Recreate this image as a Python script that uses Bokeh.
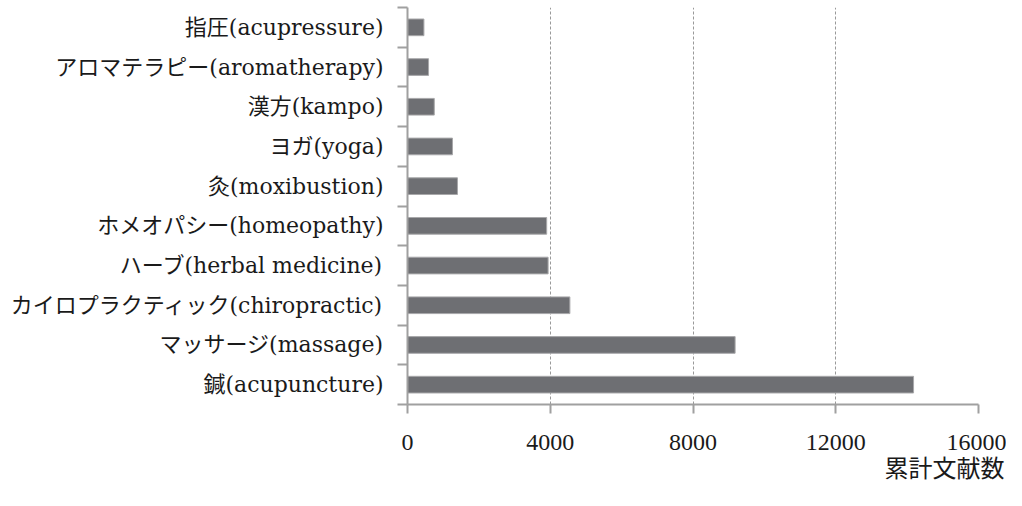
from bokeh.plotting import figure
from bokeh.models import FixedTicker, Range1d, Title
from bokeh.embed import file_html
from bokeh.resources import INLINE

categories = ["鍼(acupuncture)", "マッサージ(massage)", "カイロプラクティック(chiropractic)",
              "ハーブ(herbal medicine)", "ホメオパシー(homeopathy)", "灸(moxibustion)",
              "ヨガ(yoga)", "漢方(kampo)", "アロマテラピー(aromatherapy)", "指圧(acupressure)"]
values = [14180, 9180, 4550, 3940, 3900, 1400, 1260, 750, 590, 460]
x_ticks = [0, 4000, 8000, 12000, 16000]
x_label = "累計文献数"

FONT = "DejaVu Serif, Noto Sans CJK JP"
NUM_FONT = "Liberation Serif, Noto Sans CJK JP"
TXT = "#1a1a1a"
AX = "#a0a0a0"

p = figure(width=1006, height=490, output_backend="svg", toolbar_location=None,
           x_range=Range1d(0, 16000), y_range=Range1d(0, len(categories)),
           min_border_left=407, min_border_right=28, min_border_top=7, min_border_bottom=86)
p.outline_line_color = None
p.background_fill_color = "white"

centers = [i + 0.5 for i in range(len(categories))]
p.hbar(y=centers, right=values, left=0, height=0.42, fill_color="#6e6f73",
       line_color="#a8a8aa", line_width=1)

# x axis
p.xaxis.ticker = FixedTicker(ticks=x_ticks)
p.xaxis.axis_line_color = AX
p.xaxis.axis_line_width = 2
p.xaxis.major_tick_line_color = AX
p.xaxis.major_tick_line_width = 2
p.xaxis.major_tick_out = 9
p.xaxis.major_tick_in = 0
p.xaxis.minor_tick_line_color = None
p.xaxis.minor_tick_out = 0
p.xaxis.major_label_standoff = 21
p.xaxis.major_label_text_font = NUM_FONT
p.xaxis.major_label_text_font_size = "24px"
p.xaxis.major_label_text_color = TXT

# y axis
p.yaxis.ticker = FixedTicker(ticks=centers, minor_ticks=list(range(len(categories) + 1)))
p.yaxis.major_label_overrides = {c: lab for c, lab in zip(centers, categories)}
p.yaxis.axis_line_color = AX
p.yaxis.axis_line_width = 2
p.yaxis.major_tick_line_color = None
p.yaxis.major_tick_out = 0
p.yaxis.major_tick_in = 0
p.yaxis.minor_tick_line_color = AX
p.yaxis.minor_tick_line_width = 2
p.yaxis.minor_tick_out = 10
p.yaxis.minor_tick_in = 0
p.yaxis.major_label_standoff = 14
p.yaxis.major_label_text_font = FONT
p.yaxis.major_label_text_font_size = "22px"
p.yaxis.major_label_text_color = TXT

# grid
p.ygrid.grid_line_color = None
p.xgrid.ticker = FixedTicker(ticks=x_ticks[1:])
p.xgrid.grid_line_color = "#999999"
p.xgrid.grid_line_dash = "3 2"
p.xgrid.grid_line_width = 1

t = Title(text=x_label, align="right", offset=-26, standoff=0,
          text_font=FONT, text_font_size="24px", text_font_style="normal",
          text_color=TXT)
p.add_layout(t, "below")

open("out.html", "w").write(file_html(p, INLINE))
